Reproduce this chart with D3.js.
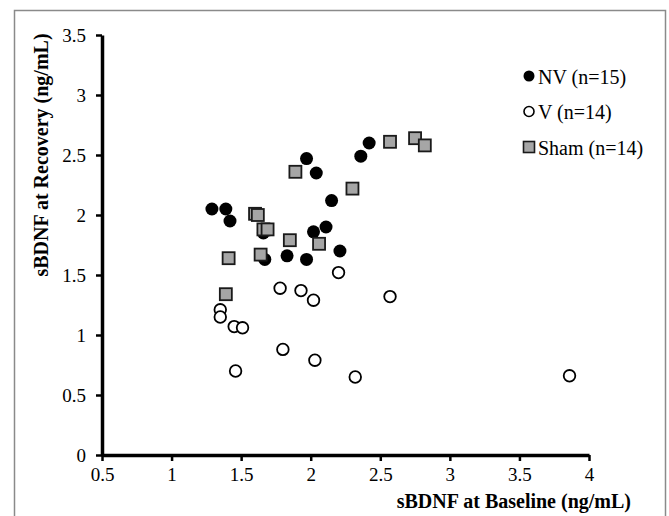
<!DOCTYPE html>
<html>
<head>
<meta charset="utf-8">
<script src="https://cdn.jsdelivr.net/npm/d3@7"></script>
<style>
  body { margin: 0; background: #fff; }
  svg { display: block; }
  text { font-family: "Liberation Serif", "Times New Roman", serif; fill: #000; }
</style>
</head>
<body>
<script>
let width = 669;
let height = 516;

// Les données (baseline, recovery)
const nvPoints = [
    [1.29, 2.05], [1.39, 2.05], [1.42, 1.95], [1.97, 2.47], [2.04, 2.35],
    [2.42, 2.60], [2.36, 2.49], [2.15, 2.12], [2.11, 1.90], [2.02, 1.86],
    [2.21, 1.70], [1.83, 1.66], [1.97, 1.63], [1.67, 1.63], [1.66, 1.85]
];
const vPoints = [
    [2.20, 1.52], [1.78, 1.39], [1.93, 1.37], [2.02, 1.29], [2.57, 1.32],
    [1.35, 1.21], [1.35, 1.15], [1.45, 1.07], [1.51, 1.06], [1.80, 0.88],
    [2.03, 0.79], [1.46, 0.70], [2.32, 0.65], [3.86, 0.66]
];
const shamPoints = [
    [1.89, 2.36], [2.30, 2.22], [2.57, 2.61], [2.75, 2.64], [2.82, 2.58],
    [1.60, 2.01], [1.62, 2.00], [1.66, 1.88], [1.69, 1.88], [1.85, 1.79],
    [2.06, 1.76], [1.64, 1.67], [1.41, 1.64], [1.39, 1.34]
];
const xTicks = [0.5, 1, 1.5, 2, 2.5, 3, 3.5, 4];
const yTicks = [0, 0.5, 1, 1.5, 2, 2.5, 3, 3.5];
const legendLabels = ["NV (n=15)", "V (n=14)", "Sham (n=14)"];

let svg = d3.select("body").append("svg")
    .attr("width", width)
    .attr("height", height);

// Le cadre gris autour de la figure
svg.append("rect")
    .attr("x", 14.5)
    .attr("y", 10.5)
    .attr("width", 651)
    .attr("height", 530)
    .attr("fill", "none")
    .attr("stroke", "#8a8a8a")
    .attr("stroke-width", 1.5);

let x = d3.scaleLinear().domain([0.5, 4]).range([102, 589]);
let y = d3.scaleLinear().domain([0, 3.5]).range([455, 35]);

// Axes
let axeX = svg.append("g")
    .attr("transform", "translate(0," + y(0) + ")")
    .call(d3.axisBottom(x).tickValues(xTicks).tickFormat(d => String(d))
        .tickSize(6).tickSizeOuter(0).tickPadding(7));

let axeY = svg.append("g")
    .attr("transform", "translate(" + x(0.5) + ",0)")
    .call(d3.axisLeft(y).tickValues(yTicks).tickFormat(d => String(d))
        .tickSize(6).tickSizeOuter(0).tickPadding(10));

[axeX, axeY].forEach(function(a) {
    a.select(".domain").attr("stroke", "#000").attr("stroke-width", 3.5);
    a.selectAll(".tick line").attr("stroke", "#000").attr("stroke-width", 2.5);
    a.selectAll(".tick text")
        .style("font-family", "'Liberation Serif', 'Times New Roman', serif")
        .style("font-size", "19px")
        .attr("fill", "#000");
});
axeY.selectAll(".tick text").attr("dy", "0.33em");

// Titres des axes
svg.append("text")
    .attr("x", 631)
    .attr("y", 508)
    .attr("text-anchor", "end")
    .style("font-size", "20px")
    .style("font-weight", "bold")
    .text("sBDNF at Baseline (ng/mL)");

svg.append("text")
    .attr("transform", "translate(48,155) rotate(-90)")
    .attr("text-anchor", "middle")
    .style("font-size", "20px")
    .style("font-weight", "bold")
    .text("sBDNF at Recovery (ng/mL)");

// Les points
let points = svg.append("g");

points.selectAll(".nv")
    .data(nvPoints)
    .enter()
    .append("circle")
    .attr("class", "nv")
    .attr("cx", d => x(d[0]))
    .attr("cy", d => y(d[1]))
    .attr("r", 6.5)
    .attr("fill", "#000");

points.selectAll(".v")
    .data(vPoints)
    .enter()
    .append("circle")
    .attr("class", "v")
    .attr("cx", d => x(d[0]))
    .attr("cy", d => y(d[1]))
    .attr("r", 5.8)
    .attr("fill", "#fff")
    .attr("stroke", "#000")
    .attr("stroke-width", 1.8);

points.selectAll(".sham")
    .data(shamPoints)
    .enter()
    .append("rect")
    .attr("class", "sham")
    .attr("x", d => x(d[0]) - 6)
    .attr("y", d => y(d[1]) - 6)
    .attr("width", 12)
    .attr("height", 12)
    .attr("fill", "#a6a6a6")
    .attr("stroke", "#1a1a1a")
    .attr("stroke-width", 1.8);

// Légende
let legende = svg.append("g").attr("transform", "translate(529,76)");
legendLabels.forEach(function(lab, i) {
    let ligne = legende.append("g").attr("transform", "translate(0," + (i * 35.5) + ")");
    if (i === 0) {
        ligne.append("circle").attr("r", 5.5).attr("fill", "#000");
    } else if (i === 1) {
        ligne.append("circle").attr("r", 5).attr("fill", "#fff")
            .attr("stroke", "#000").attr("stroke-width", 1.6);
    } else {
        ligne.append("rect").attr("x", -5.5).attr("y", -5.5)
            .attr("width", 11).attr("height", 11)
            .attr("fill", "#a6a6a6").attr("stroke", "#1a1a1a").attr("stroke-width", 1.6);
    }
    ligne.append("text")
        .attr("x", 9)
        .attr("y", 7.5)
        .style("font-size", "20px")
        .text(lab);
});
</script>
</body>
</html>
